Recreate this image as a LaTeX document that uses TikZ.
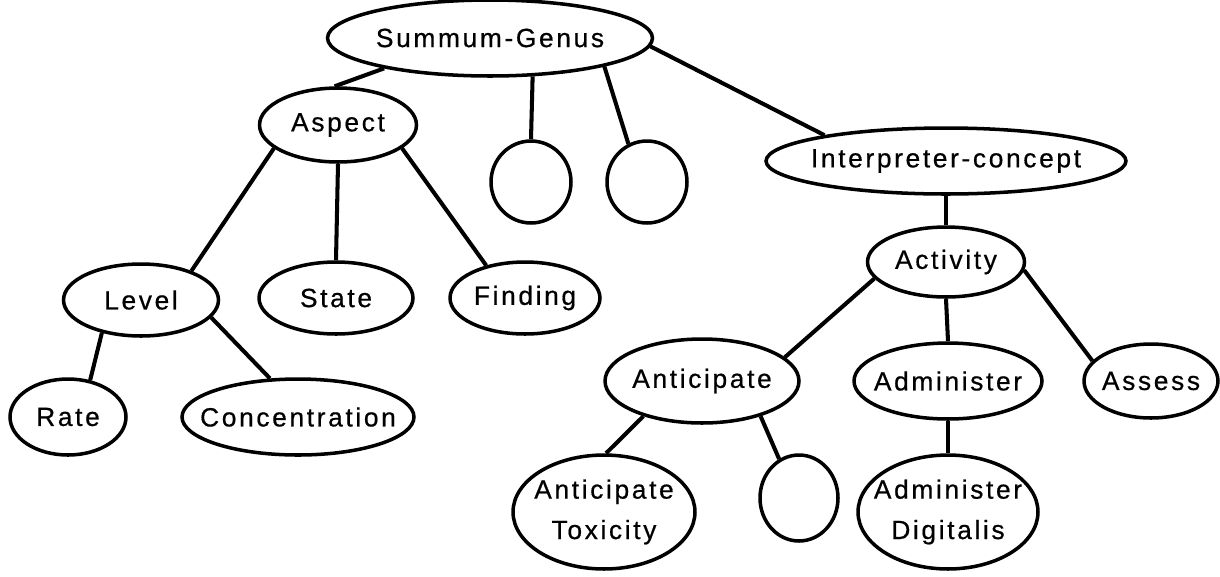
\documentclass[tikz,border=0pt]{standalone}
\usepackage{fontspec}
\setmainfont[LetterSpace=10,FakeBold=0.6]{Liberation Sans}
\usetikzlibrary{shapes.geometric}

\begin{document}
\begin{tikzpicture}[x=0.02cm, y=-0.02cm,
  concept/.style={draw, ellipse, line width=2pt, inner xsep=-1em, inner ysep=-3pt,
    align=center, font=\fontsize{15}{17}\selectfont},
  link/.style={line width=2.3pt}]
\useasboundingbox (0,0) rectangle (1220,576);
% top
\node[concept, minimum width=6.5cm, minimum height=1.52cm] (summum) at (490,38) {Summum-Genus};
\node[concept, minimum width=3.14cm, minimum height=1.48cm] (aspect) at (338,125) {Aspect};
\node[concept, minimum width=1.6cm, minimum height=1.64cm] (blankA) at (531,182) {};
\node[concept, minimum width=1.6cm, minimum height=1.64cm] (blankB) at (647,182) {};
\node[concept, minimum width=7.2cm, minimum height=1.32cm] (interp) at (946,161) {Interpreter-concept};
% left branch
\node[concept, minimum width=3.1cm, minimum height=1.44cm] (level) at (141,300) {Level};
\node[concept, minimum width=3.08cm, minimum height=1.44cm] (state) at (336,298) {State};
\node[concept, minimum width=3.0cm, minimum height=1.44cm] (finding) at (525,298) {Finding};
\node[concept, minimum width=2.32cm, minimum height=1.52cm] (rate) at (68,417) {Rate};
\node[concept, minimum width=4.64cm, minimum height=1.52cm] (conc) at (298,417) {Concentration};
% right branch
\node[concept, minimum width=3.14cm, minimum height=1.4cm] (activity) at (946,262) {Activity};
\node[concept, minimum width=3.88cm, minimum height=1.68cm] (anticip) at (702,381) {Anticipate};
\node[concept, minimum width=3.76cm, minimum height=1.52cm] (admin) at (948,381) {Administer};
\node[concept, minimum width=2.68cm, minimum height=1.48cm] (assess) at (1151,381) {Assess};
\node[concept, minimum width=3.64cm, minimum height=2.28cm] (anttox) at (604,512) {Anticipate\\[6pt]Toxicity};
\node[concept, minimum width=1.56cm, minimum height=1.72cm] (blankC) at (799,498) {};
\node[concept, minimum width=3.6cm, minimum height=2.28cm] (admdig) at (948,512) {Administer\\[6pt]Digitalis};
% links
\draw[link] (summum.196) -- (aspect.95);
\draw[link] (summum.318) -- (blankA.90);
\draw[link] (summum.346) -- (blankB.116);
\draw[link] (summum.357) -- (interp.168);
\draw[link] (aspect.200) -- (level.30);
\draw[link] (aspect.270) -- (state.90);
\draw[link] (aspect.340) -- (finding.140);
\draw[link] (level.220) -- (rate.59);
\draw[link] (level.346) -- (conc.126);
\draw[link] (interp.270) -- (activity.90);
\draw[link] (activity.193) -- (anticip.16);
\draw[link] (activity.270) -- (admin.90);
\draw[link] (activity.354) -- (assess.161);
\draw[link] (anticip.211) -- (anttox.88);
\draw[link] (anticip.329) -- (blankC.117);
\draw[link] (admin.270) -- (admdig.90);
\end{tikzpicture}
\end{document}
